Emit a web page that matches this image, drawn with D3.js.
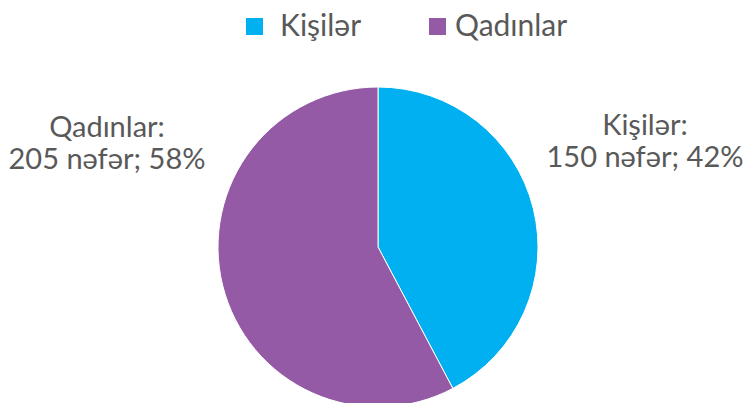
<!DOCTYPE html>
<html>
<head>
<meta charset="utf-8">
<script src="https://cdn.jsdelivr.net/npm/d3@7/dist/d3.min.js"></script>
<style>
  html, body { margin: 0; padding: 0; background: #fff; }
  svg text { font-family: Lato, "Open Sans", sans-serif; fill: #595959; }
</style>
</head>
<body>
<svg id="chart" width="745" height="403"></svg>
<script>
// Gender split of respondents
const categories = ["Kişilər", "Qadınlar"];
const counts = [150, 205];
const percents = [42, 58];
const colors = ["#00B0F0", "#955AA5"];

const svg = d3.select("#chart");
const cx = 378, cy = 247, radius = 160;

const pie = d3.pie().sort(null).value(d => d.value);
const arc = d3.arc().innerRadius(0).outerRadius(radius);
const data = categories.map((c, i) => ({ name: c, value: counts[i], pct: percents[i], color: colors[i] }));

const g = svg.append("g").attr("transform", `translate(${cx},${cy})`);
g.selectAll("path")
  .data(pie(data))
  .join("path")
  .attr("d", arc)
  .attr("fill", d => d.data.color)
  .attr("stroke", "#fff")
  .attr("stroke-width", 1);

// Data labels beside the pie, two lines each
const labelPos = [{ x: 645, y: 135 }, { x: 107, y: 137 }];
data.forEach((d, i) => {
  svg.append("text")
    .attr("text-anchor", "middle")
    .attr("font-size", 29)
    .attr("x", labelPos[i].x).attr("y", labelPos[i].y)
    .text(d.name + ":");
  svg.append("text")
    .attr("text-anchor", "middle")
    .attr("font-size", 29)
    .attr("x", labelPos[i].x).attr("y", labelPos[i].y + 32)
    .text(`${d.value} nəfər; ${d.pct}%`);
});

// Legend
const legendX = [246, 429];
const legend = svg.append("g");
data.forEach((d, i) => {
  legend.append("rect")
    .attr("x", legendX[i]).attr("y", 18)
    .attr("width", 17).attr("height", 17)
    .attr("fill", d.color);
  legend.append("text")
    .attr("x", legendX[i] + (i === 0 ? 34 : 26)).attr("y", 36)
    .attr("font-size", 30)
    .text(d.name);
});
</script>
</body>
</html>
